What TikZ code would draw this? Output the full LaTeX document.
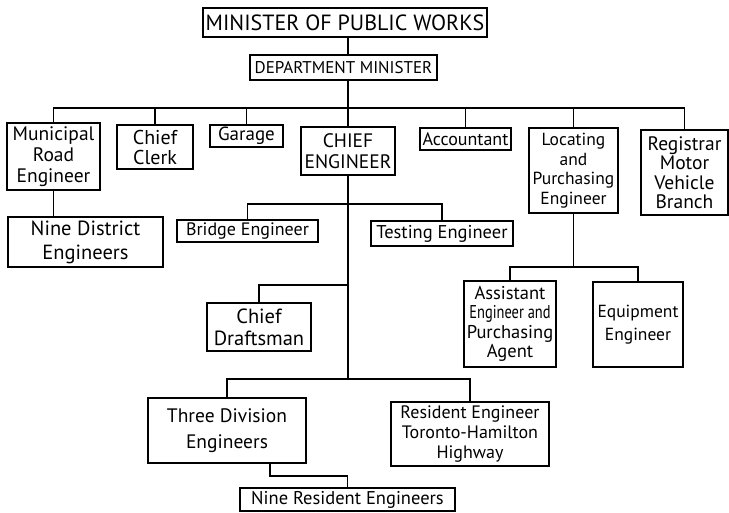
\documentclass[tikz,border=0pt]{standalone}
\usepackage{fontspec}
\setmainfont{PT Sans}
\newcommand{\boxfont}[2]{\fontsize{#1}{#2}\selectfont}

\begin{document}
\begin{tikzpicture}[x=1pt, y=-1pt]
    \tikzset{BoxStyle/.style = {draw, line width=1.6pt, align=center, inner sep=0pt}}
    \tikzset{LineStyle/.style = {line width=1.4pt}}
    \useasboundingbox (0,0) rectangle (729,512);
    % top of the chart
    \node[BoxStyle, minimum width=284pt, minimum height=29pt, font=\boxfont{22}{24}](Min) at (345,22.5){MINISTER OF PUBLIC WORKS};
    \node[BoxStyle, minimum width=187pt, minimum height=25pt, font=\boxfont{17}{19}](Dept) at (343.5,67.5){DEPARTMENT MINISTER};
    % first row
    \node[BoxStyle, minimum width=93pt, minimum height=67pt, font=\boxfont{19.5}{21}](MRE) at (53.5,156.5){Municipal\\Road\\Engineer};
    \node[BoxStyle, minimum width=76pt, minimum height=44pt, font=\boxfont{20}{20}](CC) at (155,147){Chief\\Clerk};
    \node[BoxStyle, minimum width=73pt, minimum height=22pt, font=\boxfont{19}{20}](Gar) at (246.5,136){Garage};
    \node[BoxStyle, minimum width=94pt, minimum height=48pt, font=\boxfont{19.5}{21}](CE) at (348,151){CHIEF\\ENGINEER};
    \node[BoxStyle, minimum width=91pt, minimum height=22pt, font=\boxfont{18}{20}](Acc) at (465.5,139){Accountant};
    \node[BoxStyle, minimum width=89pt, minimum height=85pt, font=\boxfont{17.5}{19.5}](LPE) at (573.5,170.5){Locating\\and\\Purchasing\\Engineer};
    \node[BoxStyle, minimum width=87pt, minimum height=85pt, font=\boxfont{19.5}{19.5}](Reg) at (684.5,172.5){Registrar\\Motor\\Vehicle\\Branch};
    % second row
    \node[BoxStyle, minimum width=155pt, minimum height=50pt, font=\boxfont{20.5}{24}](NDE) at (85.5,242){Nine District\\Engineers};
    \node[BoxStyle, minimum width=141pt, minimum height=22pt, font=\boxfont{18}{20}](BRE) at (247.5,231){Bridge Engineer};
    \node[BoxStyle, minimum width=142pt, minimum height=25pt, font=\boxfont{18.5}{20}](TEE) at (442,233.5){Testing Engineer};
    % third row
    \node[BoxStyle, minimum width=104pt, minimum height=48pt, font=\boxfont{20.5}{22}](CDR) at (259,327){Chief\\Draftsman};
    \node[BoxStyle, minimum width=92pt, minimum height=86pt, font=\boxfont{18.5}{19.5}](AEP) at (510,324){Assistant\\\scalebox{0.78}[1]{Engineer and}\\Purchasing\\Agent};
    \node[BoxStyle, minimum width=90pt, minimum height=85pt, font=\boxfont{17.5}{23}](EQE) at (638,324.5){Equipment\\Engineer};
    % bottom rows
    \node[BoxStyle, minimum width=158pt, minimum height=65pt, font=\boxfont{19.5}{26}](TDE) at (227,430.5){Three Division\\Engineers};
    \node[BoxStyle, minimum width=158pt, minimum height=64pt, font=\boxfont{18}{20}](RET) at (470,434){Resident Engineer\\Toronto-Hamilton\\Highway};
    \node[BoxStyle, minimum width=215pt, minimum height=23pt, font=\boxfont{18.5}{20}](NRE) at (347.5,499.5){Nine Resident Engineers};

    \coordinate (Bus) at (0,108);
    \coordinate (BusBT) at (0,204);
    \coordinate (BusDr) at (0,285);
    \coordinate (BusLP) at (0,267);
    \coordinate (BusLow) at (0,379);

    \draw[LineStyle](CE |- Min.south) -- (CE |- Dept.north);
    \draw[LineStyle](CE |- Dept.south) -- (CE.north);
    \draw[LineStyle](MRE.north) |- (Reg.north |- Bus) -- (Reg.north);
    \foreach \n in {CC, Gar, Acc, LPE}
        \draw[LineStyle](\n.north) -- (\n.north |- Bus);
    \draw[LineStyle](MRE.south) -- (MRE.south |- NDE.north);

    \draw[LineStyle](BRE.north) |- (TEE.north |- BusBT) -- (TEE.north);
    \draw[LineStyle](CE.south) -- (CE.south |- BusLow);
    \draw[LineStyle](CDR.north) |- (CE.south |- BusDr);
    \draw[LineStyle](LPE.south) -- (LPE.south |- BusLP);
    \draw[LineStyle](AEP.north) |- (EQE.north |- BusLP) -- (EQE.north);

    \draw[LineStyle](TDE.north) |- (RET.north |- BusLow) -- (RET.north);
    \draw[LineStyle]([xshift=43pt]TDE.south) -- ++(0,12) -| (NRE.north);
\end{tikzpicture}
\end{document}
